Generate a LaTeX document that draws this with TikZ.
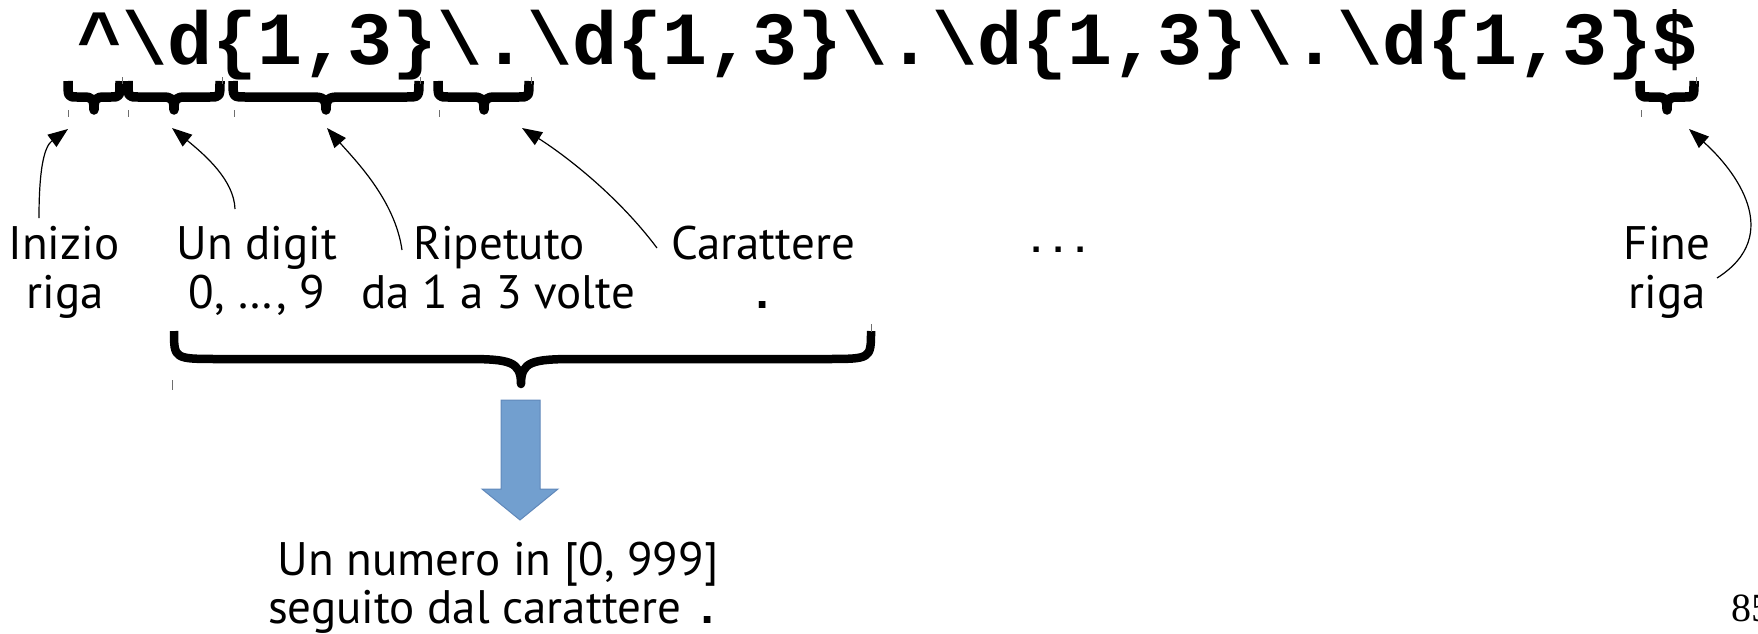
\documentclass[tikz,border=0pt]{standalone}
\usepackage{fontspec}
\setmainfont{PT Sans}
\newfontfamily\codefont{Liberation Mono}
\newfontfamily\pagefont{Liberation Serif}
\usetikzlibrary{arrows.meta}
\definecolor{arrowfill}{RGB}{114,159,207}
\definecolor{arrowline}{RGB}{96,136,186}
\definecolor{tickgray}{RGB}{110,110,110}
% #1 options, #2 x0, #3 x1, #4 xm, #5 ytop, #6 ymid, #7 ytip, #8 end radius, #9 cusp half width
\newcommand\mybrace[9][]{%
  \draw[bracestyle,#1] (#2,#5) .. controls (#2,#6) .. ({#2+#8},#6)
    -- ({#4-#9},#6) .. controls ({#4-0.2*#9},#6) and (#4,{#6+0.1*(#7-#6)}) .. (#4,#7)
    .. controls (#4,{#6+0.1*(#7-#6)}) and ({#4+0.2*#9},#6) .. ({#4+#9},#6)
    -- ({#3-#8},#6) .. controls (#3,#6) .. (#3,#5);}
\begin{document}
\begin{tikzpicture}[x=1pt,y=-1pt,
  bracestyle/.style={line width=9.5pt,line cap=butt,line join=round},
  code/.style={font=\codefont\bfseries\fontsize{75}{80}\selectfont,inner sep=0pt,anchor=base west},
  lab/.style={font=\fontsize{47}{51}\selectfont,inner sep=0pt,anchor=base},
  monodot/.style={font=\codefont\bfseries\fontsize{47}{51}\selectfont,inner sep=0pt,anchor=base},
  conn/.style={line width=1.2pt,-{Triangle[length=20pt,width=15pt]}},
  tick/.style={line width=1pt,tickgray},
  blockarrow/.style={fill=arrowfill,draw=arrowline,line width=1pt}]
\useasboundingbox (0,0) rectangle (1758,634);
% regular expression
\node[code] (re) at (77.5,65) {\textasciicircum\textbackslash d\{1,3\}\textbackslash .\textbackslash d\{1,3\}\textbackslash .\textbackslash d\{1,3\}\textbackslash .\textbackslash d\{1,3\}\$};
% small braces
\mybrace{68}{120}{94}{81}{97}{110}{9}{11}
\mybrace{128}{220}{174}{81}{97}{110}{10}{12}
\mybrace{233}{419}{326}{81}{97}{110}{12}{14}
\mybrace{438}{529}{484}{81}{97}{110}{10}{12}
\mybrace{1640}{1694}{1667}{81}{97}{110}{9}{11}
% selection ticks
\foreach \a/\b in {68/122,128/222,234/420,439/531,1641/1696}{
  \draw[tick] (\a,110) -- (\a,117);
  \draw[tick] (\b,77) -- (\b,84);
}
% brace tips (arrow targets)
\coordinate (t1) at (68,129);
\coordinate (t2) at (172,128);
\coordinate (t3) at (327,128);
\coordinate (t4) at (522,128);
\coordinate (t5) at (1689,129);
% labels
\node[lab] (ini1) at (64,259) {Inizio};
\node[lab] (ini2) at (65,308) {riga};
\node[lab] (dig1) at (257,259) {Un digit};
\node[lab] (dig2) at (257,308) {0, …, 9};
\node[lab] (rip1) at (499,259) {Ripetuto};
\node[lab] (rip2) at (498,308) {da 1 a 3 volte};
\node[lab] (car1) at (763,259) {Carattere};
\node[monodot] (car2) at (763,308) {.};
\node[code,font=\codefont\bfseries\fontsize{37}{40}\selectfont] (dots) at (1025,252) {...};
\node[lab] (fin1) at (1667,259) {Fine};
\node[lab] (fin2) at (1667,308) {riga};
% connector start points
\coordinate (s1) at (39,218);
\coordinate (s2) at (235,209);
\coordinate (s3) at (402,250);
\coordinate (s4) at (657,248);
\coordinate (s5) at (1717,278);
\draw[conn] (s1) .. controls (39,165) and (45,146) .. (t1);
\draw[conn] (s2) .. controls (234,180) and (205,155) .. (t2);
\draw[conn] (s3) .. controls (395,200) and (355,160) .. (t3);
\draw[conn] (s4) .. controls (615,192) and (560,152) .. (t4);
\draw[conn] (s5) .. controls (1785,235) and (1735,170) .. (t5);
% big brace
\mybrace[line width=8.5pt]{174}{871}{521}{331}{359}{384}{45}{55}
\draw[tick] (172,380) -- (172,390);
\draw[tick] (871,324) -- (871,332);
% block arrow
\draw[blockarrow] (501,400) -- (540,400) -- (540,489) -- (558,489) -- (520,520) -- (482,489) -- (501,489) -- cycle;
% result
\node[lab] (res1) at (498,575) {Un numero in [0, 999]};
\node[lab] (res2) at (495,623) {seguito dal carattere {\codefont\bfseries .}};
% page number
\node[font=\pagefont\fontsize{40}{40}\selectfont,inner sep=0pt,anchor=base west] (pg) at (1731,621) {85};
\end{tikzpicture}
\end{document}
